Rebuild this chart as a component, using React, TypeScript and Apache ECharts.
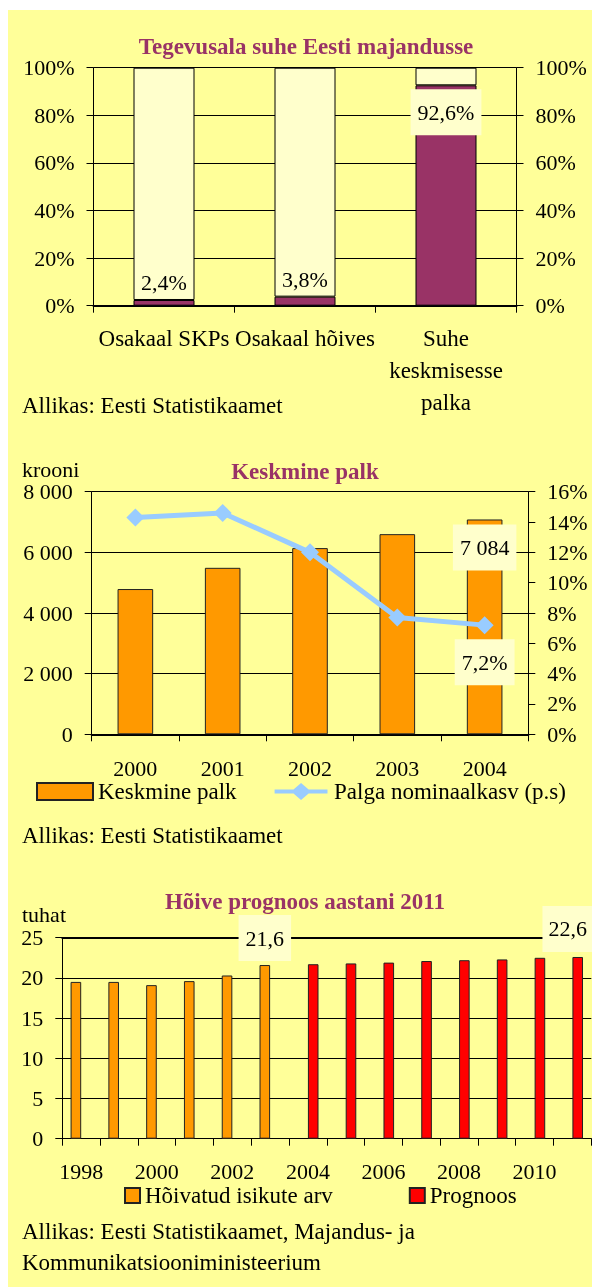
import React, { useEffect, useRef } from "react";
import * as echarts from "echarts";

const topCategories = ["Osakaal SKPs", "Osakaal hõives", "Suhe\nkeskmisesse\npalka"];
const topShare = [2.4, 3.8, 92.6];
const topRest = [97.6, 96.2, 7.4];

const wageYears = ["2000", "2001", "2002", "2003", "2004"];
const wageValues = [4790, 5490, 6140, 6600, 7084];
const wageGrowth = [14.3, 14.6, 12.0, 7.7, 7.2];

const empYears = ["1998", "1999", "2000", "2001", "2002", "2003", "2004", "2005", "2006", "2007", "2008", "2009", "2010", "2011"];
const empActual = [19.5, 19.5, 19.1, 19.6, 20.3, 21.6, null, null, null, null, null, null, null, null];
const empForecast = [null, null, null, null, null, null, 21.7, 21.8, 21.9, 22.1, 22.2, 22.3, 22.5, 22.6];

const FONT = "Liberation Serif";
const PLUM = "#993366";
const PALE = "#FFFFCC";

const comma = (v: number, d = 1) => v.toFixed(d).replace(".", ",");
const thousands = (v: number) => String(Math.round(v)).replace(/\B(?=(\d{3})+(?!\d))/g, " ");

function txt(text: string, x: number, y: number, size: number, opts: any = {}) {
  return {
    type: "text",
    x,
    y,
    silent: true,
    style: {
      text,
      fill: opts.color || "#000",
      fontFamily: FONT,
      fontSize: size,
      fontWeight: opts.bold ? "bold" : "normal",
      textAlign: opts.align || "left",
      align: opts.align || "left",
      textVerticalAlign: "middle",
      verticalAlign: "middle",
    },
  };
}

function catAxis(gridIndex: number, data: string[], margin: number, extra: any = {}) {
  return {
    type: "category",
    gridIndex,
    data,
    position: "bottom",
    axisLine: { show: true, lineStyle: { color: "#000", width: 1 } },
    axisTick: { show: true, length: 7, interval: 0, lineStyle: { color: "#000" } },
    axisLabel: { interval: 0, margin, fontFamily: FONT, fontSize: 22, color: "#000", ...extra },
    splitLine: { show: false },
  };
}

function topLine(gridIndex: number, data: string[]) {
  return {
    type: "category",
    gridIndex,
    data,
    position: "top",
    axisLine: { show: true, lineStyle: { color: "#000", width: 2 } },
    axisTick: { show: false },
    axisLabel: { show: false },
    splitLine: { show: false },
  };
}

function valAxis(gridIndex: number, position: string, min: number, max: number, interval: number, formatter: any, split: boolean) {
  return {
    type: "value",
    gridIndex,
    position,
    min,
    max,
    interval,
    axisLine: { show: true, lineStyle: { color: "#000", width: 1 } },
    axisTick: { show: true, length: 7, lineStyle: { color: "#000" } },
    axisLabel: { margin: 19, fontFamily: FONT, fontSize: 22, color: "#000", formatter },
    splitLine: { show: split, lineStyle: { color: "#000", width: 1 } },
  };
}

const LINE_ICON = "path://M0,7 L20,7 L28,0 L36,7 L56,7 L56,11 L36,11 L28,18 L20,11 L0,11 Z";

export default function App() {
  const ref = useRef<HTMLDivElement>(null);
  useEffect(() => {
    if (!ref.current) return;
    const chart = echarts.init(ref.current, undefined, { renderer: "svg" });
    const boxLabel = (formatter: any, position: string, distance: number, extra: any = {}) => ({
      show: true,
      position,
      distance,
      formatter,
      fontFamily: FONT,
      fontSize: 22,
      color: "#000",
      backgroundColor: PALE,
      padding: [12, 7],
      ...extra,
    });
    const legendText = { fontFamily: FONT, fontSize: 23, color: "#000" };

    const option: any = {
      animation: false,
      graphic: [
        { type: "rect", shape: { x: 8, y: 10, width: 584, height: 1277 }, style: { fill: "#FFFF99" }, z: -10, silent: true },
        txt("Tegevusala suhe Eesti majandusse", 306, 46, 23, { bold: true, color: PLUM, align: "center" }),
        txt("Allikas: Eesti Statistikaamet", 22, 405, 23),
        txt("krooni", 22, 469, 22),
        txt("Keskmine palk", 305, 471, 23, { bold: true, color: PLUM, align: "center" }),
        txt("Allikas: Eesti Statistikaamet", 22, 835, 23),
        txt("Hõive prognoos aastani 2011", 305, 901, 23, { bold: true, color: PLUM, align: "center" }),
        txt("tuhat", 22, 914, 22),
        txt("Allikas: Eesti Statistikaamet, Majandus- ja", 22, 1231, 23),
        txt("Kommunikatsiooniministeerium", 22, 1262, 23),
      ],
      grid: [
        { left: 93.5, top: 67.7, width: 423, height: 238 },
        { left: 91.7, top: 491.7, width: 436.6, height: 242.6 },
        { left: 62.3, top: 937.7, width: 529, height: 201 },
      ],
      xAxis: [
        catAxis(0, topCategories, 17, { fontSize: 23, lineHeight: 32 }),
        topLine(0, topCategories),
        catAxis(1, wageYears, 23),
        topLine(1, wageYears),
        catAxis(2, empYears, 22, { interval: 1 }),
        topLine(2, empYears),
      ],
      yAxis: [
        valAxis(0, "left", 0, 100, 20, "{value}%", true),
        valAxis(0, "right", 0, 100, 20, "{value}%", false),
        valAxis(1, "left", 0, 8000, 2000, (v: number) => thousands(v), true),
        valAxis(1, "right", 0, 16, 2, "{value}%", false),
        valAxis(2, "left", 0, 25, 5, "{value}", true),
      ],
      legend: [
        {
          data: [
            { name: "Keskmine palk", icon: "rect" },
            { name: "Palga nominaalkasv (p.s)", icon: LINE_ICON },
          ],
          left: 36,
          top: 780,
          padding: 0,
          itemWidth: 56,
          itemHeight: 17,
          itemGap: 38,
          textStyle: legendText,
        },
        {
          data: [
            { name: "Hõivatud isikute arv", icon: "rect" },
            { name: "Prognoos", icon: "rect" },
          ],
          left: 124,
          top: 1184,
          padding: 0,
          itemWidth: 15,
          itemHeight: 15,
          itemGap: 76,
          textStyle: legendText,
        },
      ],
      series: [
        {
          name: "Osakaal",
          type: "bar",
          xAxisIndex: 0,
          yAxisIndex: 0,
          stack: "top",
          z: 3,
          barWidth: 61,
          itemStyle: { color: PLUM, borderColor: "#000", borderWidth: 1 },
          data: topShare.map((v, i) => ({
            value: v,
            label:
              i === topShare.length - 1
                ? boxLabel((p: any) => comma(p.value) + "%", "insideTop", 4)
                : boxLabel((p: any) => comma(p.value) + "%", "top", 6, { padding: 0, backgroundColor: "transparent" }),
          })),
        },
        {
          name: "Ülejäänud",
          type: "bar",
          xAxisIndex: 0,
          yAxisIndex: 0,
          stack: "top",
          z: 2,
          barWidth: 61,
          itemStyle: { color: PALE, borderColor: "#000", borderWidth: 1 },
          data: topRest,
        },
        {
          name: "Keskmine palk",
          type: "bar",
          xAxisIndex: 2,
          yAxisIndex: 2,
          barWidth: 35.6,
          z: 2,
          itemStyle: { color: "#FF9900", borderColor: "#222", borderWidth: 1 },
          data: wageValues.map((v, i) =>
            i === wageValues.length - 1
              ? { value: v, label: boxLabel((p: any) => thousands(p.value), "insideTop", 5) }
              : v
          ),
        },
        {
          name: "Palga nominaalkasv (p.s)",
          type: "line",
          xAxisIndex: 2,
          yAxisIndex: 3,
          z: 4,
          symbol: "diamond",
          symbolSize: 18,
          lineStyle: { color: "#99CCFF", width: 5 },
          itemStyle: { color: "#99CCFF" },
          data: wageGrowth.map((v, i) =>
            i === wageGrowth.length - 1
              ? { value: v, label: boxLabel((p: any) => comma(p.value) + "%", "bottom", 5) }
              : v
          ),
        },
        {
          name: "Hõivatud isikute arv",
          type: "bar",
          xAxisIndex: 4,
          yAxisIndex: 4,
          barWidth: 10.6,
          barGap: "0%",
          z: 3,
          itemStyle: { color: "#FF9900", borderColor: "#222", borderWidth: 1 },
          data: empActual.map((v, i) =>
            i === 5 ? { value: v, label: boxLabel((p: any) => comma(p.value), "top", 4) } : v
          ),
        },
        {
          name: "Prognoos",
          type: "bar",
          xAxisIndex: 4,
          yAxisIndex: 4,
          barWidth: 10.6,
          barGap: "0%",
          z: 3,
          itemStyle: { color: "#FF0000", borderColor: "#222", borderWidth: 1 },
          data: empForecast.map((v, i) =>
            i === empForecast.length - 1
              ? { value: v, label: boxLabel((p: any) => comma(p.value), "top", 5, { offset: [-10, 0], padding: [12, 6] }) }
              : v
          ),
        },
      ],
    };
    chart.setOption(option);
    return () => chart.dispose();
  }, []);
  return <div ref={ref} style={{ position: "fixed", left: 0, top: 0, width: 592, height: 1287 }} />;
}
